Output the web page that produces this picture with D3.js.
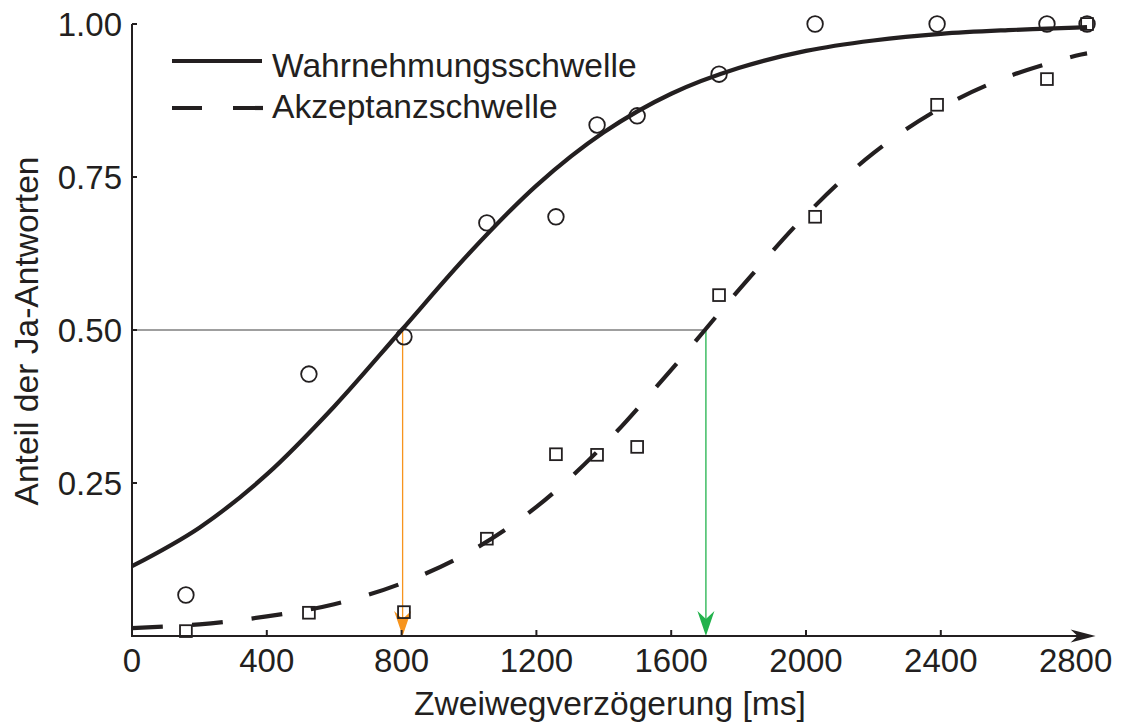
<!DOCTYPE html>
<html>
<head>
<meta charset="utf-8">
<script src="https://cdn.jsdelivr.net/npm/d3@7"></script>
<style>
  html, body { margin: 0; padding: 0; background: #fff; }
  svg { display: block; }
  text { font-family: "Liberation Sans", Arial, Helvetica, sans-serif; fill: #231f20; }
</style>
</head>
<body>
<svg id="chart" width="1124" height="726"></svg>
<script>
// Measured round-trip delay (ms) per condition
const delays = [160, 525, 807, 1053, 1258, 1380, 1499, 1742, 2027, 2389, 2715, 2834];
// Share of "yes" answers: perception threshold (circles)
const perceptionShare = [0.067, 0.428, 0.489, 0.675, 0.685, 0.835, 0.850, 0.918, 1.0, 1.0, 1.0, 1.0];
// Share of "yes" answers: acceptance threshold (squares)
const acceptanceShare = [0.008, 0.038, 0.039, 0.159, 0.297, 0.296, 0.309, 0.557, 0.685, 0.868, 0.910, 1.0];

// Fitted psychometric curves, sampled along the delay axis
const curveDelays = [0, 200, 400, 600, 800, 1000, 1200, 1400, 1600, 1800, 2000, 2200, 2400, 2600, 2800, 2834];
const perceptionCurve = [0.114, 0.177, 0.264, 0.375, 0.500, 0.625, 0.736, 0.823, 0.886, 0.928, 0.956, 0.973, 0.984, 0.990, 0.994, 0.995];
const acceptanceCurve = [0.013, 0.019, 0.032, 0.052, 0.086, 0.137, 0.211, 0.312, 0.435, 0.565, 0.688, 0.789, 0.863, 0.914, 0.948, 0.952];

// 50 % thresholds of both curves
const thresholds = [803, 1703];
const thresholdLevel = 0.5;

const xTicks = [0, 400, 800, 1200, 1600, 2000, 2400, 2800];
const yTicks = [0.25, 0.50, 0.75, 1.00];
const seriesNames = ["Wahrnehmungsschwelle", "Akzeptanzschwelle"];
const xTitle = "Zweiwegverzögerung [ms]";
const yTitle = "Anteil der Ja-Antworten";

const ink = "#231f20";
const orange = "#f7941d";
const green = "#22b24c";

const svg = d3.select("#chart");
const x = d3.scaleLinear().domain([0, 2800]).range([132, 1075.6]);
const y = d3.scaleLinear().domain([0, 1]).range([636, 24]);

// Threshold guides: horizontal at 50 %, vertical drops to the axis
const guides = svg.append("g");
guides.append("line")
  .attr("x1", x(0)).attr("x2", x(thresholds[1]))
  .attr("y1", y(thresholdLevel)).attr("y2", y(thresholdLevel))
  .attr("stroke", "#7f7f7f").attr("stroke-width", 1.3);

const arrowPath = (cx, tipY, w, h, notch) =>
  `M${cx},${tipY} L${cx - w / 2},${tipY - h} L${cx},${tipY - h + notch} L${cx + w / 2},${tipY - h} Z`;

[[thresholds[0], orange], [thresholds[1], green]].forEach(([t, col]) => {
  guides.append("line")
    .attr("x1", x(t)).attr("x2", x(t))
    .attr("y1", y(thresholdLevel)).attr("y2", y(0) - 10)
    .attr("stroke", col).attr("stroke-width", 1.3);
  guides.append("path")
    .attr("d", arrowPath(x(t), y(0), 17, 25, 8))
    .attr("fill", col);
});

// Axes
const axes = svg.append("g");
axes.append("line")
  .attr("x1", x(0)).attr("x2", x(2800) + 8)
  .attr("y1", y(0)).attr("y2", y(0))
  .attr("stroke", ink).attr("stroke-width", 2);
axes.append("path")
  .attr("d", `M${x(2800) + 20},${y(0)} L${x(2800) - 5},${y(0) - 6.5} L${x(2800) + 2},${y(0)} L${x(2800) - 5},${y(0) + 6.5} Z`)
  .attr("fill", ink);
axes.append("line")
  .attr("x1", x(0)).attr("x2", x(0))
  .attr("y1", y(0) + 1).attr("y2", y(1))
  .attr("stroke", ink).attr("stroke-width", 2);

axes.selectAll(".xt").data(xTicks.filter(d => d > 0 && d < 2800)).join("line")
  .attr("x1", d => x(d)).attr("x2", d => x(d))
  .attr("y1", y(0)).attr("y2", y(0) - 6)
  .attr("stroke", ink).attr("stroke-width", 2);
axes.selectAll(".yt").data(yTicks).join("line")
  .attr("x1", x(0)).attr("x2", x(0) + 5)
  .attr("y1", d => y(d)).attr("y2", d => y(d))
  .attr("stroke", ink).attr("stroke-width", 2);

axes.selectAll(".xl").data(xTicks).join("text")
  .attr("x", d => x(d)).attr("y", 672)
  .attr("text-anchor", "middle")
  .attr("font-size", 33)
  .text(d => d);
axes.selectAll(".yl").data(yTicks).join("text")
  .attr("x", 122).attr("y", d => y(d) + 12)
  .attr("text-anchor", "end")
  .attr("font-size", 33)
  .text(d => d3.format(".2f")(d));

svg.append("text")
  .attr("x", 610).attr("y", 715)
  .attr("text-anchor", "middle")
  .attr("font-size", 33.6)
  .text(xTitle);
svg.append("text")
  .attr("transform", `translate(38,331) rotate(-90)`)
  .attr("text-anchor", "middle")
  .attr("font-size", 33.6)
  .text(yTitle);

// Data markers
const marks = svg.append("g").attr("fill", "none").attr("stroke", ink).attr("stroke-width", 1.8);
marks.selectAll("circle").data(delays.map((d, i) => [d, perceptionShare[i]])).join("circle")
  .attr("cx", d => x(d[0])).attr("cy", d => y(d[1])).attr("r", 7.8);
const sq = 11.8;
marks.selectAll("rect").data(delays.map((d, i) => [d, acceptanceShare[i]])).join("rect")
  .attr("x", d => x(d[0]) - sq / 2).attr("y", d => y(d[1]) - sq / 2)
  .attr("width", sq).attr("height", sq);

// Fitted curves
const line = d3.line().x(d => x(d[0])).y(d => y(d[1])).curve(d3.curveCatmullRom.alpha(0.5));
svg.append("path")
  .attr("d", line(curveDelays.map((d, i) => [d, perceptionCurve[i]])))
  .attr("fill", "none").attr("stroke", ink).attr("stroke-width", 4.2);
svg.append("path")
  .attr("d", line(curveDelays.map((d, i) => [d, acceptanceCurve[i]])))
  .attr("fill", "none").attr("stroke", ink).attr("stroke-width", 4.2)
  .attr("stroke-dasharray", "31,29");

// Legend
const legend = svg.append("g");
legend.append("line")
  .attr("x1", 172).attr("x2", 262).attr("y1", 61).attr("y2", 61)
  .attr("stroke", ink).attr("stroke-width", 4.2);
legend.append("line")
  .attr("x1", 172).attr("x2", 263).attr("y1", 108).attr("y2", 108)
  .attr("stroke", ink).attr("stroke-width", 4.2)
  .attr("stroke-dasharray", "30,31");
legend.selectAll("text").data(seriesNames).join("text")
  .attr("x", 272).attr("y", (d, i) => i === 0 ? 77 : 118)
  .attr("font-size", 33.6)
  .text(d => d);
</script>
</body>
</html>
